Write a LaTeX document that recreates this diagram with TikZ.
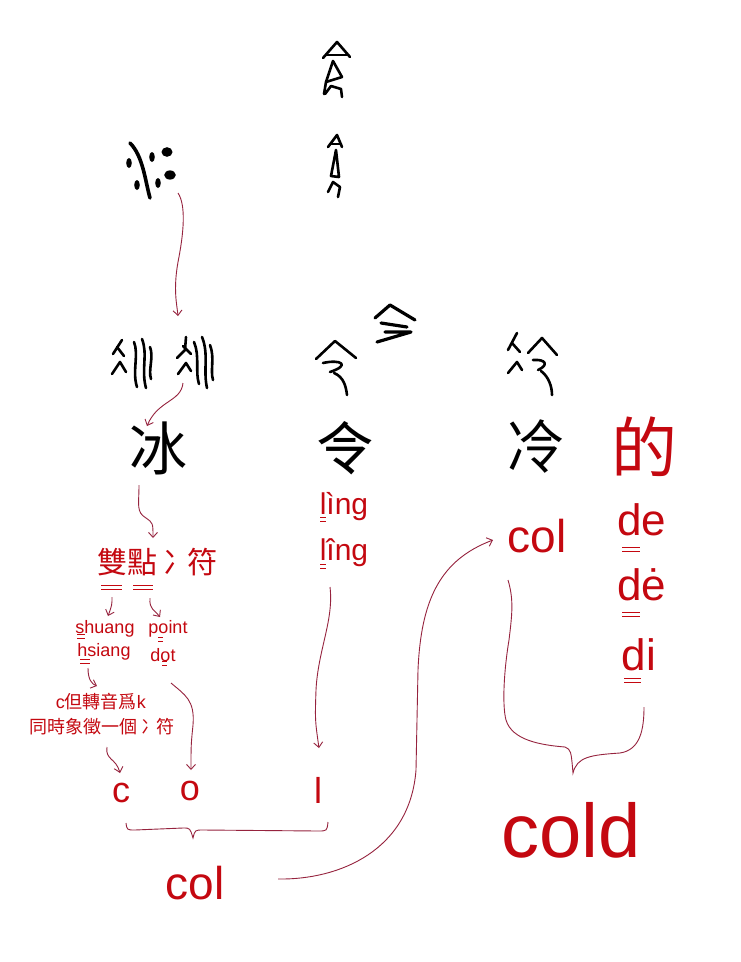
\documentclass[tikz,border=0pt]{standalone}
\usepackage{fontspec}
\setmainfont{Liberation Sans}
\newfontfamily\cjk{Noto Sans CJK TC}
\usetikzlibrary{arrows.meta,calc}
\definecolor{inkred}{RGB}{196,8,16}
\definecolor{penred}{RGB}{150,35,62}
% short double bar under a letter
\newcommand{\dblbar}[3]{\draw[uline] (#1,#3) -- (#2,#3) (#1,#3+4) -- (#2,#3+4);}

\begin{document}
\begin{tikzpicture}[x=1pt,y=-1pt,
    glyphbox/.style={inner sep=0pt},
    stroke/.style={line width=2.6pt,line cap=round,line join=round},
    arr/.style={penred,line width=0.9pt,-{Straight Barb[length=5pt,width=9pt]}},
    brace/.style={penred,line width=0.9pt},
    uline/.style={inkred,line width=0.8pt},
    han/.style={font=\cjk\fontsize{58}{58}\selectfont,inner sep=0pt},
    redhan/.style={text=inkred,font=\cjk\fontsize{#1}{#1}\selectfont,inner sep=0pt},
    latin/.style={text=inkred,font=\fontsize{#1}{#1}\selectfont,inner sep=0pt}]
  \useasboundingbox[fill=white] (0,0) rectangle (740,962);

  % ancient forms (drawn, no font has them)
  \node[glyphbox,minimum width=50pt,minimum height=60pt] (bingJia) at (151,170) {};
  \node[glyphbox,minimum width=32pt,minimum height=56pt] (lingJinA) at (337,70) {};
  \node[glyphbox,minimum width=20pt,minimum height=66pt] (lingJinB) at (336,165) {};
  \node[glyphbox,minimum width=40pt,minimum height=54pt] (bingZhuanA) at (130,362) {};
  \node[glyphbox,minimum width=40pt,minimum height=54pt] (bingZhuanB) at (195,362) {};
  \node[glyphbox,minimum width=44pt,minimum height=58pt] (lingZhuan) at (336,367) {};
  \node[glyphbox,minimum width=42pt,minimum height=44pt] (lingAlt) at (393,322) {};
  \node[glyphbox,minimum width=52pt,minimum height=60pt] (lengZhuan) at (531,365) {};

  \begin{scope}[shift={(bingJia.center)}]
    \draw[stroke,line width=3.6pt] (-21,-27) .. controls (-8,-14) and (-6,10) .. (-1,28);
    \fill (-22,-7) ellipse (2.8 and 5);
    \fill (-14,15) ellipse (2.8 and 5);
    \fill (1,-13) ellipse (2.8 and 5);
    \fill (16,-18) ellipse (5.5 and 4.8);
    \fill (19,5) ellipse (5.8 and 4.6);
    \fill (7,13) ellipse (2.8 and 5);
  \end{scope}
  \begin{scope}[shift={(lingJinA.center)}]
    \draw[stroke] (-14,-12) -- (0,-28) -- (13,-13);
    \draw[stroke] (-11,-15) -- (11,-15);
    \draw[stroke] (-4,-9) -- (5,7) -- (-11,12);
    \draw[stroke] (-4,-9) -- (-11,12) -- (-13,24);
    \draw[stroke] (-12,24) -- (-6,16) -- (4,19) -- (5,27);
  \end{scope}
  \begin{scope}[shift={(lingJinB.center)}]
    \draw[stroke] (-8,-18) -- (1,-30) -- (6,-18);
    \draw[stroke] (-6,-21) -- (5,-21);
    \draw[stroke] (0,-15) -- (3,12) -- (-5,11) -- cycle;
    \draw[stroke] (-8,27) -- (-3,17) -- (4,22) -- (2,32);
  \end{scope}
  \begin{scope}[shift={(bingZhuanA.center)}]
    \draw[stroke] (-8,-22) -- (-17,-8);
    \draw[stroke] (-13,-15) -- (-6,-6);
    \draw[stroke] (-18,12) -- (-10,0) -- (-4,10);
    \draw[stroke] (4,-20) .. controls (9,-8) and (2,10) .. (7,25);
    \draw[stroke] (12,-23) .. controls (18,-8) and (11,8) .. (16,26);
    \draw[stroke] (20,-15) .. controls (24,-5) and (18,8) .. (21,17);
  \end{scope}
  \begin{scope}[shift={(bingZhuanB.center)}]
    \draw[stroke] (-9,-25) -- (-10,-12) -- (-18,-4);
    \draw[stroke] (-12,-16) -- (-4,-8);
    \draw[stroke] (-17,12) -- (-9,1) -- (-4,9);
    \draw[stroke] (-1,-20) .. controls (5,-6) and (0,10) .. (4,22);
    \draw[stroke] (7,-25) .. controls (14,-8) and (8,8) .. (12,26);
    \draw[stroke] (15,-17) .. controls (20,-4) and (15,8) .. (18,18);
  \end{scope}
  \begin{scope}[shift={(lingZhuan.center)}]
    \draw[stroke] (-20,-8) -- (-1,-26) -- (20,-9);
    \draw[stroke] (-13,-4) .. controls (5,-8) and (15,-2) .. (-6,5);
    \draw[stroke] (-2,6) .. controls (8,10) and (10,20) .. (11,28);
  \end{scope}
  \begin{scope}[shift={(lingAlt.center)}]
    \draw[stroke,line width=3.2pt] (-18,-4) -- (-3,-17) -- (22,-2);
    \draw[stroke,line width=3.2pt] (-12,1) -- (14,5);
    \draw[stroke,line width=3.2pt] (-8,10) -- (18,10) -- (-16,20);
  \end{scope}
  \begin{scope}[shift={(lengZhuan.center)}]
    \draw[stroke] (-14,-32) -- (-23,-15);
    \draw[stroke] (-19,-22) -- (-11,-13);
    \draw[stroke] (-23,8) -- (-14,-3) -- (-9,5);
    \draw[stroke] (-3,-12) -- (11,-27) -- (26,-10);
    \draw[stroke] (2,-5) .. controls (15,-6) and (18,0) .. (7,5);
    \draw[stroke] (10,6) .. controls (18,12) and (21,22) .. (21,30);
  \end{scope}

  % modern characters
  \node[han] (bing) at (158,448) {冰};
  \node[han] (ling) at (345,448) {令};
  \node[han] (leng) at (535,447) {冷};
  \node[redhan=66] (dechar) at (644,447) {的};

  % left column
  \node[redhan=30] (shuangdian) at (157,562) {雙點\kern6pt冫\kern-6pt符};
  \node[latin=18] (shuang) at (105,629) {shuang};
  \node[latin=18] (hsiang) at (104,652) {hsiang};
  \node[latin=18] (point) at (168,629) {point};
  \node[latin=18] (dot) at (163,655) {dot};
  \node[latin=18] (noteC) at (101,702) {c{\cjk 但轉音爲}k};
  \node[redhan=18] (noteTong) at (102,727) {同時象徵一個\kern4pt冫\kern-4pt符};
  \node[latin=36] (cL) at (121,793) {c};
  \node[latin=36] (oL) at (190,791) {o};
  \node[latin=36] (lL) at (318,790) {l};
  \node[latin=46] (colA) at (195,883) {col};

  % middle and right
  \node[latin=30] (lingfour) at (344,507) {lìng};
  \node[latin=30] (lingthree) at (344,553) {lîng};
  \node[latin=46] (colB) at (537,536) {col};
  \node[latin=44] (deA) at (642,520) {de};
  \node[latin=44] (deB) at (642,585) {dė};
  \node[latin=44] (deC) at (639,655) {di};
  \node[latin=76] (cold) at (571,830) {cold};

  % double bars
  \dblbar{101}{122}{585}
  \dblbar{133}{153}{585}
  \dblbar{77}{85}{634}
  \dblbar{80}{90}{659}
  \dblbar{158}{163}{637}
  \dblbar{162}{167}{661}
  \dblbar{320}{326}{517}
  \dblbar{320}{326}{564}
  \dblbar{622}{640}{547}
  \dblbar{622}{640}{612}
  \dblbar{624}{641}{678}

  % arrows
  \draw[arr] ($(bingJia)+(27,23)$) .. controls (186,205) and (184,232) .. (178,262)
    .. controls (173,290) and (177,305) .. ($(bingZhuanB)+(-17,-46)$);
  \draw[arr] ($(bingZhuanB)+(-12,21)$) .. controls (181,402) and (158,400) .. ($(bing)+(-11,-22)$);
  \draw[arr] ($(bing)+(-19,37)$) .. controls (139,505) and (136,512) .. (146,518)
    .. controls (153,523) .. ($(shuangdian)+(-4,-24)$);
  \draw[arr] ($(shuangdian)+(-45,35)$) .. controls (112,605) .. ($(shuang)+(3,-13)$);
  \draw[arr] ($(shuangdian)+(-7,36)$) .. controls (149,610) and (155,610) .. ($(point)+(-8,-12)$);
  \draw[arr] ($(hsiang)+(-16,16)$) .. controls (88,680) and (92,684) .. ($(noteC)+(-4,-16)$);
  \draw[arr] ($(noteTong)+(5,20)$) .. controls (105,760) and (116,758) .. ($(cL)+(-1,-20)$);
  \draw[arr] ($(dot)+(8,28)$) .. controls (185,695) and (195,700) .. (193,725)
    .. controls (191,745) .. ($(oL)+(1,-21)$);
  \draw[arr] ($(lingthree)+(-14,34)$) .. controls (334,620) and (318,650) .. (316,690)
    .. controls (315,720) .. ($(lL)+(1,-42)$);
  \draw[arr] ($(colA)+(83,-4)$) .. controls (340,880) and (410,850) .. (416,770)
    -- (418,670) .. controls (421,600) and (440,560) .. ($(colB)+(-44,4)$);

  % braces
  \draw[brace] (126,823) .. controls (127,830) .. (135,830) -- (183,828)
    .. controls (190,828) .. (193,838) .. controls (195,830) .. (203,830)
    -- (318,831) .. controls (327,831) .. (328,822);
  \draw[brace] (508,580) .. controls (514,600) and (512,615) .. (509,640)
    .. controls (504,670) and (502,705) .. (506,720)
    .. controls (512,740) and (540,745) .. (565,747)
    .. controls (571,750) .. (573,773)
    .. controls (577,757) and (590,755) .. (620,753)
    .. controls (640,750) and (644,730) .. (644,707);
\end{tikzpicture}
\end{document}
